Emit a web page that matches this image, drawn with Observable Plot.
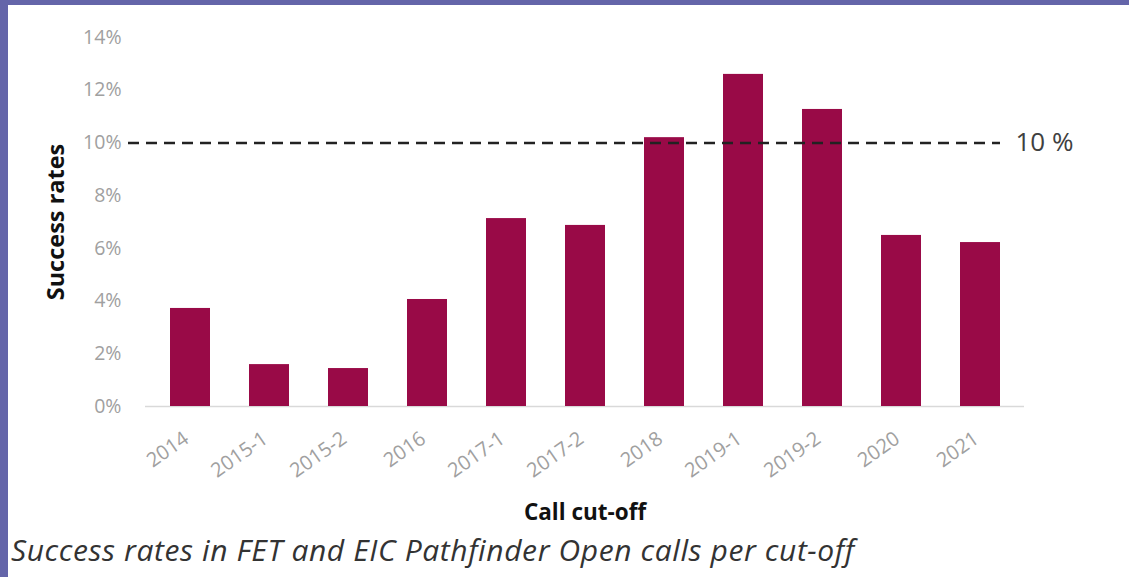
<!DOCTYPE html>
<html>
<head>
<meta charset="utf-8">
<script src="https://cdn.jsdelivr.net/npm/d3@7"></script>
<script src="https://cdn.jsdelivr.net/npm/@observablehq/plot@0.6"></script>
<style>
  html, body { margin: 0; padding: 0; }
  body {
    width: 1129px; height: 577px; box-sizing: border-box; overflow: hidden;
    background: #ffffff;
    border-top: 5px solid #6465a9;
    border-left: 8px solid #6465a9;
    position: relative;
    font-family: "Open Sans", sans-serif;
  }
  #chart svg { display: block; }
  #chart [aria-label="x-axis label"] text { font-weight: bold; fill: #111; font-size: 22.5px; }
  #chart [aria-label="y-axis label"] text { font-weight: bold; fill: #111; font-size: 23.5px; }
  #caption {
    position: absolute; left: 3px; top: 530px;
    font-family: "Open Sans", sans-serif; font-style: italic;
    font-size: 30px; letter-spacing: 0.6px; line-height: 1; color: #333; white-space: nowrap;
  }
</style>
</head>
<body>
<div id="chart"></div>
<div id="caption">Success rates in FET and EIC Pathfinder Open calls per cut-off</div>
<script>
const cutoffs = ["2014", "2015-1", "2015-2", "2016", "2017-1", "2017-2", "2018", "2019-1", "2019-2", "2020", "2021"];
const rates = [0.0372, 0.0159, 0.0144, 0.0406, 0.0713, 0.0687, 0.102, 0.126, 0.1127, 0.0649, 0.0622];
const yTicks = [0, 0.02, 0.04, 0.06, 0.08, 0.10, 0.12, 0.14];
const threshold = [0.10];
const thresholdLabel = "10 %";

const data = cutoffs.map((c, i) => ({cutoff: c, rate: rates[i]}));

const chart = Plot.plot({
  width: 1121,
  height: 525,
  marginLeft: 137,
  marginRight: 105,
  marginTop: 32,
  marginBottom: 124,
  style: {fontFamily: "Open Sans", background: "white", overflow: "visible"},
  x: {domain: cutoffs, paddingInner: 0.5, paddingOuter: 0.26},
  y: {domain: [0, 0.14]},
  marks: [
    Plot.ruleY([0], {stroke: "#d9d9d9", strokeWidth: 1.5}),
    Plot.barY(data, {x: "cutoff", y: "rate", fill: "#990a47"}),
    Plot.ruleY(threshold, {stroke: "#222", strokeWidth: 2.5, strokeDasharray: "11,7", insetLeft: -17, insetRight: 24}),
    Plot.text(threshold, {y: d => d, frameAnchor: "right", text: () => thresholdLabel, textAnchor: "start", dx: -9, fontSize: 26, fill: "#404040"}),
    Plot.axisX({
      tickSize: 0, tickPadding: 30, tickRotate: -35, fontSize: 20, fill: "#a0a0a0", dx: -4, label: null
    }),
    Plot.axisX({
      ticks: [], label: "Call cut-off", labelAnchor: "center", labelArrow: "none", labelOffset: 113
    }),
    Plot.axisY({
      ticks: yTicks, tickFormat: d3.format(".0%"), tickSize: 0, tickPadding: 24, fontSize: 19.5, fill: "#a0a0a0",
      label: "Success rates", labelAnchor: "center", labelArrow: "none", labelOffset: 98
    })
  ]
});
document.getElementById("chart").appendChild(chart);
</script>
</body>
</html>
